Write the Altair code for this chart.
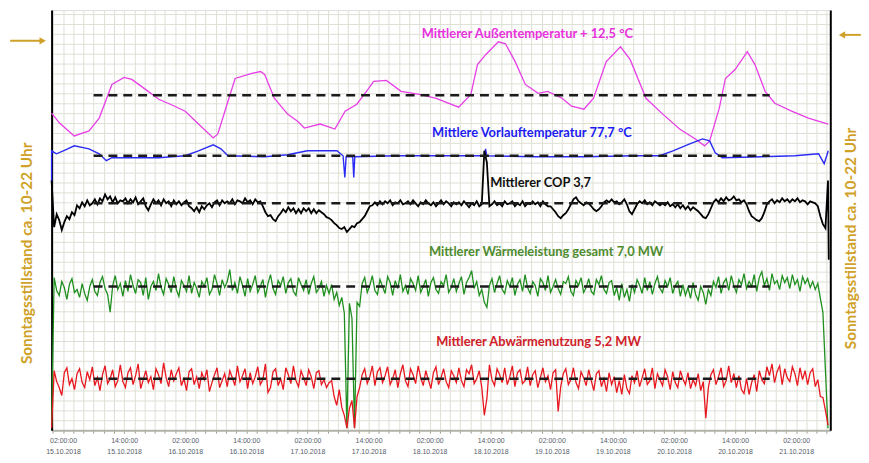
import altair as alt
import pandas as pd

# x = hours after 15.10.2018 00:00 ; y = scale divisions (the chart has no y labels)
GOLD = "#cfa128"
GRID = "#dfe0d5"
SIDE = "Sonntagsstillstand ca. 10-22 Uhr"

# --- Außentemperatur (magenta)
aussen_t = [-0.25, 1.3, 4.2, 7.1, 9.1, 11.6, 14.0, 15.5, 18.2, 20.8, 23.5, 26.0, 28.6, 31.5, 32.4, 34.4,
            35.8, 38.9, 40.8, 41.6, 43.5, 46.1, 48.0, 49.4, 52.5, 55.4, 57.4, 59.7, 61.6, 63.0, 65.5, 68.4,
            72.0, 75.3, 79.7, 82.1, 83.4, 85.0, 87.5, 88.9, 90.8, 92.8, 95.3, 97.2, 100.0, 101.9, 104.3,
            106.2, 108.7, 111.5, 113.4, 116.5, 119.8, 123.1, 126.2, 128.0, 129.0, 130.9, 132.1, 134.0,
            136.4, 137.9, 139.9, 141.8, 145.1, 148.4, 152.3]
aussen_v = [32.0, 31.0, 29.7, 30.2, 31.5, 34.9, 35.6, 35.4, 34.4, 33.4, 32.8, 32.2, 30.9, 29.5, 29.9, 33.2,
            35.5, 36.0, 36.2, 35.9, 33.5, 31.9, 31.2, 30.5, 30.9, 30.4, 32.2, 32.9, 34.2, 35.2, 35.3, 34.2,
            33.9, 33.5, 32.6, 33.9, 36.9, 37.9, 39.2, 39.0, 37.2, 34.9, 34.0, 34.2, 33.5, 32.7, 32.4,
            33.5, 37.2, 38.7, 37.4, 33.5, 31.9, 30.4, 29.4, 28.7, 29.2, 32.5, 35.5, 36.4,
            38.2, 36.9, 34.2, 33.0, 32.2, 31.5, 30.9]

# --- Vorlauftemperatur (blue)
vorlauf_t = [-0.25, -0.25, 0.7, 2.5, 4.2, 7.1, 9.1, 10.5, 11.6, 15.5, 20.8, 26.0, 28.6, 31.5, 33.0, 34.4,
             41.6, 46.1, 50.0, 55.8, 57.0, 57.35, 57.6, 58.9, 59.1, 59.3, 67.5, 77.2, 84.8, 85.0, 85.2,
             94.7, 104.4, 114.2, 119.2, 121.8, 125.1, 127.6, 129.0, 130.1, 131.5, 139.3, 145.7, 150.4,
             151.5, 152.3]
vorlauf_v = [25.0, 28.2, 27.9, 28.3, 28.7, 28.4, 27.9, 27.2, 27.5, 27.5, 27.5, 27.7, 28.2, 28.8, 28.4, 27.7,
             27.6, 27.8, 28.2, 28.2, 27.7, 25.5, 27.6, 27.6, 25.5, 27.6, 27.7, 27.7, 27.7, 28.4, 27.7,
             27.6, 27.6, 27.7, 27.7, 28.2, 28.9, 29.4, 29.2, 28.0, 27.5, 27.6, 27.7, 27.9,
             26.9, 28.2]

# --- half-hourly readings for the noisy series
t_grid = [round(-0.25 + 0.5 * i, 2) for i in range(306)]

cop_v = [
    25.2, 20.5, 21.8, 21.2, 20.2, 21.0, 21.6, 21.3, 22.0, 21.7,
    22.7, 22.4, 23.0, 22.6, 23.2, 22.7, 22.9, 23.3, 22.8, 23.4,
    23.1, 23.8, 23.3, 23.6, 23.0, 23.5, 22.9, 23.2, 23.1, 23.4,
    22.9, 23.3, 23.0, 23.5, 22.8, 23.1, 23.4, 22.6, 22.2, 22.8,
    23.3, 22.9, 23.2, 22.7, 23.3, 22.9, 23.1, 22.6, 23.2, 22.8,
    23.1, 22.7, 23.0, 23.2, 22.6, 22.4, 22.1, 22.5, 22.0, 22.6,
    22.3, 22.7, 22.9, 22.5, 23.0, 23.2, 22.7, 23.2, 22.9, 23.1,
    22.9, 23.3, 22.8, 23.2, 23.1, 22.9, 23.4, 23.0, 23.2, 22.8,
    23.3, 23.0, 23.1, 22.6, 22.0, 21.6, 21.7, 21.3, 21.1, 21.6,
    21.9, 22.3, 22.0, 22.5, 22.1, 22.4, 21.9, 22.3, 21.9, 22.4,
    22.1, 22.4, 21.9, 22.3, 21.9, 22.2, 22.0, 21.8, 21.5, 21.4,
    21.2, 20.9, 20.7, 20.4, 20.3, 20.5, 20.0, 20.3, 20.6, 20.5,
    20.9, 21.0, 21.3, 21.6, 22.1, 22.6, 22.7, 23.0, 22.7, 23.1,
    22.8, 23.1, 22.9, 23.2, 22.7, 23.0, 22.9, 23.2, 22.8, 22.9,
    23.1, 22.8, 23.2, 22.9, 22.6, 23.0, 22.8, 23.2, 22.9, 22.7,
    23.0, 22.6, 22.9, 23.2, 22.8, 23.1, 22.9, 22.6, 23.0, 22.8,
    23.0, 22.7, 23.1, 22.8, 22.5, 22.9, 22.7, 23.1, 22.6, 22.8,
    28.2, 27.0, 22.6, 22.8, 23.1, 22.7, 22.9, 22.6, 23.1, 22.8,
    22.9, 23.1, 22.6, 22.9, 22.7, 23.1, 22.6, 22.9, 22.8, 23.1,
    22.8, 23.0, 22.6, 23.1, 22.8, 22.6, 22.6, 22.3, 22.0, 21.6,
    21.4, 21.7, 21.9, 22.3, 22.8, 23.3, 23.5, 23.1, 22.9, 22.7,
    23.0, 22.9, 22.6, 22.3, 22.1, 22.3, 22.6, 23.0, 23.2, 23.0,
    23.3, 23.0, 23.1, 22.8, 23.0, 23.3, 22.8, 22.1, 21.8, 22.3,
    22.8, 23.1, 22.9, 23.2, 22.8, 23.0, 22.7, 23.1, 22.9, 22.7,
    22.9, 22.7, 23.0, 22.6, 22.8, 22.5, 22.8, 22.4, 22.7, 22.3,
    22.6, 22.2, 22.5, 22.3, 22.1, 21.8, 21.5, 21.4, 21.8, 22.4,
    23.0, 23.3, 23.0, 23.4, 23.1, 23.5, 23.2, 23.3, 23.6, 23.2,
    23.3, 23.0, 23.2, 22.8, 22.1, 21.6, 21.4, 21.2, 21.1, 21.4,
    22.0, 22.8, 23.1, 23.3, 22.9, 23.2, 23.0, 23.4, 23.1, 23.3,
    23.0, 23.3, 23.1, 23.4, 23.0, 23.2, 23.1, 22.8, 23.1, 23.0,
    22.9, 22.6, 21.6, 20.8, 20.4, 25.2, 17.2]
cop_t = t_grid + [152.4]

waerme_v = [
    0.3, 15.4, 14.1, 13.6, 15.0, 14.4, 13.2, 14.7, 15.3, 13.9,
    14.2, 13.4, 14.8, 13.8, 13.1, 14.5, 15.2, 14.0, 13.6, 14.9,
    15.5, 14.3, 13.7, 11.9, 14.6, 15.6, 14.2, 14.8, 13.5, 15.1,
    14.0, 15.7, 14.6, 13.8, 15.2, 14.9, 13.6, 15.4, 13.2, 14.5,
    15.0, 14.1, 15.8, 14.4, 13.7, 15.3, 14.7, 13.9, 15.5, 14.2,
    13.5, 15.1, 14.6, 14.0, 15.6, 13.8, 14.9, 14.3, 13.4, 15.0,
    14.5, 15.4, 13.7, 14.2, 15.7, 14.8, 13.6, 15.2, 14.4, 15.0,
    16.2, 14.1, 14.9, 13.8, 15.5, 14.6, 13.5, 15.3, 14.0, 14.7,
    15.6, 13.9, 14.5, 15.2, 13.4, 14.8, 15.7, 14.3, 13.7, 15.1,
    14.6, 15.5, 13.8, 14.9, 15.3, 14.0, 13.6, 15.4, 14.7, 14.1,
    15.2, 13.7, 14.8, 15.5, 13.9, 14.3, 15.0, 13.5, 14.6, 13.8,
    14.7, 13.2, 13.9, 12.6, 13.4, 11.8, 0.2, 12.8, 11.3, 0.2,
    12.9, 12.5, 14.8, 15.4, 13.9, 14.6, 15.6, 14.1, 13.7, 15.2,
    14.5, 13.8, 15.5, 14.9, 13.6, 15.1, 14.3, 15.7, 14.0, 14.6,
    13.7, 15.3, 14.8, 14.1, 15.6, 13.9, 14.5, 15.2, 13.5, 14.9,
    15.4, 14.2, 13.8, 15.0, 14.6, 15.7, 13.9, 14.4, 15.3, 14.0,
    14.8, 15.5, 13.7, 14.9, 15.4, 16.1, 14.3, 15.0, 13.6, 14.2,
    12.9, 12.4, 14.6, 15.3, 13.9, 14.8, 15.6, 14.2, 13.8, 15.1,
    14.5, 15.4, 13.6, 14.7, 15.2, 14.0, 15.7, 14.4, 13.8, 15.0,
    14.6, 13.5, 15.3, 14.9, 14.1, 15.6, 13.9, 14.5, 15.2, 14.3,
    13.7, 15.0, 14.8, 15.5, 14.0, 13.6, 15.1, 14.6, 15.4, 13.9,
    14.4, 15.3, 14.0, 13.7, 15.2, 14.7, 15.6, 14.2, 13.8, 14.9,
    15.1, 13.6, 14.4, 13.1, 14.8, 13.4, 14.2, 13.0, 14.7, 13.9,
    15.2, 14.6, 13.8, 15.4, 14.1, 15.0, 13.7, 14.8, 15.5, 14.3,
    13.9, 15.1, 14.5, 15.4, 13.8, 14.6, 15.0, 13.5, 14.7, 13.6,
    14.4, 13.3, 14.9, 13.7, 13.1, 14.5, 13.9, 12.7, 14.2, 13.6,
    15.0, 14.4, 15.5, 13.8, 14.9, 15.3, 14.1, 15.6, 14.6, 13.9,
    15.2, 14.7, 15.8, 14.3, 15.0, 14.5, 15.7, 14.0, 15.4, 16.0,
    14.6, 15.3, 14.1, 15.8, 14.8, 15.1, 14.2, 15.6, 14.9, 15.4,
    14.3, 15.7, 14.7, 15.2, 14.0, 15.5, 14.8, 15.3, 14.4, 15.0,
    14.2, 14.8, 13.3, 11.9, 6.0, 0.2]

abwaerme_v = [
    0.2, 6.0, 4.9, 4.3, 3.5, 5.8, 6.3, 4.6, 5.2, 4.1,
    5.7, 6.2, 4.8, 4.3, 5.9, 5.1, 6.4, 4.5, 5.3, 4.0,
    5.6, 6.5, 4.7, 5.2, 6.1, 4.4, 5.0, 6.6, 4.9, 4.3,
    5.8, 6.3, 4.6, 5.5, 6.7, 4.2, 5.1, 6.0, 4.8, 5.4,
    4.1, 6.2, 5.6, 4.7, 6.8, 5.3, 4.4, 6.1, 5.0, 5.7,
    6.3, 4.5, 5.2, 4.0, 5.9, 6.2, 4.6, 5.4, 4.2, 5.8,
    5.1, 6.1, 3.9, 4.8, 5.6, 6.3, 4.3, 5.0, 5.7, 4.4,
    6.0, 5.3, 4.5, 6.5, 4.9, 5.5, 6.2, 4.2, 5.8, 4.7,
    5.4, 6.4, 4.6, 5.1, 6.7, 3.8, 4.3, 5.9, 6.2, 4.5,
    5.2, 4.1, 6.3, 5.6, 4.7, 6.5, 5.0, 4.4, 6.0, 5.3,
    4.5, 6.1, 5.4, 4.2, 5.8, 6.0, 4.6, 5.1, 4.3, 4.8,
    5.0, 3.4, 2.5, 4.1, 2.3, 1.5, 0.2, 2.2, 3.0, 0.2,
    3.4, 4.3, 5.6, 6.2, 4.7, 5.4, 6.5, 4.5, 5.9, 6.3,
    4.8, 5.5, 6.4, 4.6, 5.2, 6.1, 4.3, 5.7, 6.6, 5.0,
    4.4, 6.2, 5.6, 4.7, 6.5, 5.3, 4.5, 6.0, 5.1, 4.2,
    5.8, 6.4, 4.6, 5.3, 6.2, 4.9, 4.3, 6.0, 5.5, 4.8,
    6.3, 5.0, 4.4, 6.1, 5.7, 6.6, 4.7, 5.2, 6.0, 4.3,
    1.5, 3.2, 6.6, 5.1, 4.5, 6.2, 5.6, 4.8, 6.3, 4.6,
    5.4, 6.5, 4.4, 5.8, 6.1, 4.7, 5.0, 6.4, 4.5, 5.6,
    6.0, 4.3, 5.3, 6.3, 4.9, 5.5, 4.1, 5.8, 6.1, 1.9,
    4.4, 5.7, 6.2, 4.6, 5.1, 6.3, 4.8, 4.2, 5.9, 5.3,
    4.5, 6.1, 5.0, 4.0, 5.7, 6.0, 4.4, 5.2, 3.9, 5.8,
    4.6, 5.4, 3.8, 5.0, 3.6, 5.6, 4.2, 3.7, 5.5, 4.8,
    6.0, 4.4, 5.3, 6.2, 4.6, 5.0, 6.3, 4.2, 5.7, 5.1,
    4.5, 6.1, 5.4, 4.1, 5.9, 4.8, 4.3, 6.0, 5.2, 4.6,
    5.8, 4.2, 5.1, 4.5, 5.7, 4.0, 4.9, 1.2, 4.3, 5.6,
    6.1, 4.6, 5.4, 6.3, 4.4, 5.0, 6.5, 4.8, 5.7, 4.3,
    5.5, 4.1, 3.7, 5.2, 3.6, 4.8, 5.6, 3.9, 6.0, 5.1,
    4.7, 6.4, 5.5, 6.7, 4.8, 5.9, 6.5, 4.6, 6.2, 5.3,
    4.9, 6.4, 5.7, 4.5, 6.3, 5.1, 6.0, 4.6, 5.8, 6.2,
    4.4, 5.1, 3.4, 3.3, 2.0, 0.5]

# --- mean levels (dashed) and labels
mean_v = [33.8, 27.7, 22.9, 14.5, 5.2]
mean_from, mean_to = 8.0, 140.8
ann_text = ["Mittlerer Außentemperatur + 12,5 °C", "Mittlere Vorlauftemperatur 77,7 °C",
            "Mittlerer COP 3,7", "Mittlerer Wärmeleistung gesamt 7,0 MW",
            "Mittlerer Abwärmenutzung 5,2 MW"]
ann_t = [93.2, 94.1, 95.8, 96.9, 95.4]
ann_v = [40.0, 30.0, 24.9, 18.0, 8.9]
ann_color = ["#e632dc", "#1c1cf2", "#111111", "#4e8c30", "#d0202a"]

# golden arrows beside the plot
arrow_t = [-8.4, 155.0]
arrow_t2 = [-2.0, 158.7]
arrow_v = [39.3, 39.9]
arrow_head_t = [-2.0, 155.0]
arrow_shape = ["triangle-right", "triangle-left"]

x_scale = alt.Scale(domain=[-0.25, 152.7], nice=False, zero=False)
y_scale = alt.Scale(domain=[0, 42.4], nice=False, zero=False)

label_expr = ("datum.value % 12 == 2 ? [(datum.value % 24 < 10 ? '0' : '') + (datum.value % 24) + ':00:00', "
              "(15 + floor(datum.value / 24)) + '.10.2018'] : ''")
x_axis = alt.Axis(values=list(range(0, 153, 2)), labelExpr=label_expr, title=None, grid=True,
                  gridColor=GRID, gridWidth=1, domainColor="#b3b3aa", domainWidth=2,
                  tickColor="#9a9a92", tickSize=3, labelFontSize=7, labelColor="#56606c",
                  labelFont="Liberation Sans", labelPadding=3, labelLineHeight=12,
                  labelOverlap=False, labelFlush=False)
y_left = alt.Axis(values=list(range(0, 43)), labels=False, ticks=False, grid=True, gridColor=GRID,
                  domainColor="black", domainWidth=2, title=SIDE, titleColor=GOLD, titleFont="Lato",
                  titleFontSize=15.5, titleFontWeight="bold", titleAngle=270, titleX=-25, titleY=245,
                  titleAlign="center", titleBaseline="middle")
y_right = alt.Axis(orient="right", labels=False, ticks=False, grid=False, domainColor="black",
                   domainWidth=2, title=SIDE, titleColor=GOLD, titleFont="Lato", titleFontSize=15.5,
                   titleFontWeight="bold", titleAngle=270, titleX=20, titleY=230, titleAlign="center",
                   titleBaseline="middle")

X = alt.X("t:Q", scale=x_scale, axis=x_axis)


def series(t, v):
    return pd.DataFrame({"t": t, "v": v, "i": list(range(len(v)))})


def line(df, color, width, axis=None):
    return alt.Chart(df).mark_line(color=color, strokeWidth=width).encode(
        x=X, y=alt.Y("v:Q", scale=y_scale, axis=axis), order=alt.Order("i:Q"))


l_aussen = line(series(aussen_t, aussen_v), "#e83ee6", 1.3, y_left)
l_vorlauf = line(series(vorlauf_t, vorlauf_v), "#2a2cf5", 1.4, y_right)
l_cop = line(series(cop_t, cop_v), "#000000", 1.8)
l_waerme = line(series(t_grid, waerme_v), "#1f8f1f", 1.3)
l_abw = line(series(t_grid, abwaerme_v), "#e8161e", 1.3)

means = pd.DataFrame({"t": [mean_from] * len(mean_v), "t2": [mean_to] * len(mean_v), "v": mean_v})
l_means = alt.Chart(means).mark_rule(color="#1b1b1b", strokeWidth=2.5, strokeDash=[9, 6]).encode(
    x=X, x2="t2:Q", y=alt.Y("v:Q", scale=y_scale, axis=None))

anns = pd.DataFrame({"t": ann_t, "v": ann_v, "txt": ann_text, "c": ann_color})
l_text = alt.Chart(anns).mark_text(font="Lato", fontSize=13, fontWeight="bold", align="center",
                                   baseline="middle").encode(
    x=X, y=alt.Y("v:Q", scale=y_scale, axis=None), text="txt:N", color=alt.Color("c:N", scale=None))

arrows = pd.DataFrame({"t": arrow_t, "t2": arrow_t2, "v": arrow_v, "h": arrow_head_t, "s": arrow_shape})
l_arrow = alt.Chart(arrows).mark_rule(color=GOLD, strokeWidth=2).encode(
    x=X, x2="t2:Q", y=alt.Y("v:Q", scale=y_scale, axis=None))
l_head = alt.Chart(arrows).mark_point(color=GOLD, filled=True, opacity=1, size=55).encode(
    x=alt.X("h:Q", scale=x_scale, axis=x_axis), y=alt.Y("v:Q", scale=y_scale, axis=None),
    shape=alt.Shape("s:N", scale=None))

chart = alt.layer(l_aussen, l_vorlauf, l_cop, l_waerme, l_abw, l_means, l_text, l_arrow, l_head).resolve_axis(
    y="independent"
).properties(
    width=786, height=424, autosize=alt.AutoSizeParams(type="none"),
    padding={"left": 44, "top": 0, "right": 31, "bottom": 31}
).configure_view(stroke=None).configure(background="white")

chart.save("out.html", embed_options={"renderer": "svg", "actions": False})
